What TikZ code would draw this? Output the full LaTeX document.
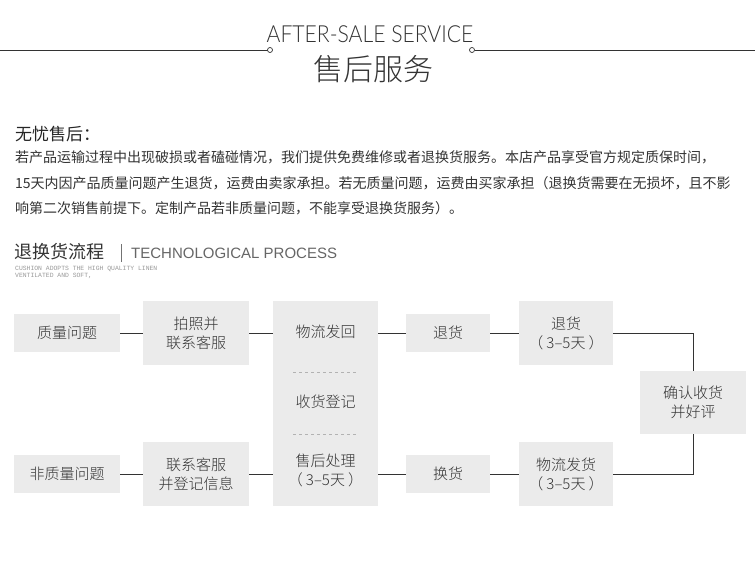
\documentclass[tikz,border=0pt]{standalone}
\usepackage{fontspec}
\setmainfont{Noto Sans CJK SC}
\newfontfamily\cjklight{Noto Sans CJK SC Light}
\newfontfamily\hdrfont{Lato Light}
\newfontfamily\latinfont{Liberation Sans}
\newfontfamily\smallmono{Liberation Mono}
\XeTeXlinebreaklocale "zh"
\XeTeXlinebreakskip=0pt plus 3pt
\definecolor{boxfill}{HTML}{EBEBEB}
\definecolor{txt}{HTML}{333333}
\definecolor{lne}{HTML}{333333}
\newcommand{\dayspan}{（\hspace{3pt}3–5天\hspace{3pt}）}
\tikzset{
  flowbox/.style={fill=boxfill, draw=none, inner sep=0pt, align=center, text=txt,
    font=\cjklight\fontsize{15}{19}\selectfont},
  conn/.style={draw=lne, line width=0.9pt},
  sep/.style={draw=black!30, line width=0.7pt, dash pattern=on 3pt off 3pt},
}
\begin{document}
\begin{tikzpicture}[x=1pt,y=-1pt]
\useasboundingbox (0,0) rectangle (755,567);
\fill[white] (0,0) rectangle (755,567);

% header
\coordinate (hl0) at (0,50);
\coordinate (hl1) at (267.5,50);
\coordinate (hr0) at (474.5,50);
\coordinate (hr1) at (755,50);
\draw[lne, line width=0.9pt] (hl0) -- (hl1);
\draw[lne, line width=0.9pt] (hr0) -- (hr1);
\draw[lne, line width=0.7pt, fill=white] (270,50) circle (2.5);
\draw[lne, line width=0.7pt, fill=white] (472,50) circle (2.5);
\node[text=txt, font=\hdrfont\fontsize{23.5}{23.5}\selectfont, inner sep=0pt, xscale=0.9] (hdr) at (370,34) {AFTER-SALE SERVICE};
\node[text=txt, font=\cjklight\fontsize{30}{30}\selectfont, inner sep=0pt] (hdrcn) at (373,69) {售后服务};

% intro paragraph
\node[anchor=base west, inner sep=0pt, text=black!85, font=\fontsize{17}{17}\selectfont] (ttl) at (15,141) {无忧售后：};
\node[anchor=base west, inner sep=0pt, text=txt, font=\fontsize{14}{14}\selectfont] (l1) at (15,163)
  {\hbox to 725pt{若产品运输过程中出现破损或者磕碰情况，我们提供免费维修或者退换货服务。本店产品享受官方规定质保时间，}};
\node[anchor=base west, inner sep=0pt, text=txt, font=\fontsize{14}{14}\selectfont] (l2) at (15,189)
  {\hbox to 722pt{15天内因产品质量问题产生退货，运费由卖家承担。若无质量问题，运费由买家承担（退换货需要在无损坏，且不影}};
\node[anchor=base west, inner sep=0pt, text=txt, font=\fontsize{14}{14}\selectfont] (l3) at (15,213)
  {响第二次销售前提下。定制产品若非质量问题，不能享受退换货服务）。};

% process title
\node[anchor=west, inner sep=0pt, text=txt, font=\fontsize{18}{18}\selectfont] (ptl) at (14,252) {退换货流程};
\node[anchor=west, inner sep=0pt, text=black!60, font=\latinfont\fontsize{15}{15}\selectfont] (pten) at (131,253) {TECHNOLOGICAL PROCESS};
\coordinate (bar0) at (121,244);
\coordinate (bar1) at (121,262);
\draw[black!55, line width=0.7pt] (bar0) -- (bar1);
\node[anchor=base west, inner sep=0pt, text=black!40, font=\smallmono\fontsize{6.4}{6.4}\selectfont] (sm1) at (15,270) {CUSHION ADOPTS THE HIGH QUALITY LINEN};
\node[anchor=base west, inner sep=0pt, text=black!40, font=\smallmono\fontsize{6.4}{6.4}\selectfont] (sm2) at (15,277) {VENTILATED AND SOFT,};

% flow boxes
\node[flowbox, minimum width=106pt, minimum height=38pt] (q1) at (67,333) {质量问题};
\node[flowbox, minimum width=106pt, minimum height=64pt] (p1) at (196,333) {拍照并\\联系客服};
\node[flowbox, minimum width=105pt, minimum height=205pt] (col) at (325.5,403.5) {};
\node[flowbox, fill=none] (c1) at (325.5,332) {物流发回};
\node[flowbox, fill=none] (c2) at (325.5,402) {收货登记};
\node[flowbox, fill=none] (c3) at (325.5,470) {售后处理\\\dayspan};
\draw[sep] (293,372) -- (358,372);
\draw[sep] (293,434) -- (358,434);
\node[flowbox, minimum width=84pt, minimum height=38pt] (r1) at (448,333) {退货};
\node[flowbox, minimum width=94pt, minimum height=64pt] (r2) at (566,333) {退货\\\dayspan};
\node[flowbox, minimum width=106pt, minimum height=63pt] (cf) at (693,402.5) {确认收货\\并好评};
\node[flowbox, minimum width=106pt, minimum height=38pt] (q2) at (67,474) {非质量问题};
\node[flowbox, minimum width=106pt, minimum height=64pt] (p2) at (196,474) {联系客服\\并登记信息};
\node[flowbox, minimum width=84pt, minimum height=38pt] (e1) at (448,474) {换货};
\node[flowbox, minimum width=94pt, minimum height=64pt] (e2) at (566,474) {物流发货\\\dayspan};

% connectors
\draw[conn] (q1.east) -- (p1.west);
\draw[conn] (p1.east) -- (p1.east -| col.west);
\draw[conn] (col.east |- r1.west) -- (r1.west);
\draw[conn] (r1.east) -- (r2.west);
\draw[conn] (r2.east) -| (cf.north);
\draw[conn] (q2.east) -- (p2.west);
\draw[conn] (p2.east) -- (p2.east -| col.west);
\draw[conn] (col.east |- e1.west) -- (e1.west);
\draw[conn] (e1.east) -- (e2.west);
\draw[conn] (e2.east) -| (cf.south);
\end{tikzpicture}
\end{document}
